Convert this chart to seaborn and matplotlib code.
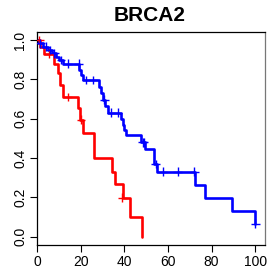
import pandas as pd
import seaborn as sns
import matplotlib.pyplot as plt

# Kaplan-Meier step points (time, survival after the drop)
red_time = [0, 1.5, 3.3, 7.9, 9.8, 10.5, 11.8, 18.6, 19.5, 21.0, 26.3, 34.4, 35.8, 39.3, 42.7, 48.2]
red_surv = [1.0, 0.965, 0.93, 0.88, 0.83, 0.77, 0.71, 0.655, 0.595, 0.527, 0.40, 0.33, 0.268, 0.198, 0.099, 0.0]

blue_time = [0, 0.6, 2.9, 5.2, 7.0, 8.7, 10.2, 12.1, 19.4, 20.2, 20.9, 28.6, 29.4, 30.1, 31.3, 32.4,
             38.5, 39.3, 40.0, 40.8, 47.7, 49.7, 53.8, 54.9, 72.2, 77.2, 89.3, 100]
blue_surv = [1.0, 0.983, 0.966, 0.949, 0.932, 0.915, 0.898, 0.88, 0.847, 0.822, 0.797, 0.763, 0.729, 0.697,
             0.664, 0.63, 0.596, 0.568, 0.542, 0.515, 0.48, 0.445, 0.37, 0.33, 0.263, 0.198, 0.132, 0.066]

# censored observations (time, survival level)
red_cens_time = [1.0, 5.6, 14.0, 20.2, 39.0]
red_cens_surv = [1.0, 0.93, 0.71, 0.595, 0.198]

blue_cens_time = [1.5, 4.0, 6.0, 8.0, 11.0, 14.0, 19.1, 22.5, 25.5, 30.9, 33.9, 37.0,
                  48.4, 49.0, 54.3, 57.6, 64.5, 72.0, 100]
blue_cens_surv = [0.983, 0.966, 0.949, 0.932, 0.898, 0.88, 0.88, 0.797, 0.797, 0.697, 0.63, 0.63,
                  0.48, 0.48, 0.37, 0.33, 0.33, 0.33, 0.066]

x_ticks = [0, 20, 40, 60, 80, 100]
y_ticks = [0.0, 0.2, 0.4, 0.6, 0.8, 1.0]

curves = pd.concat([
    pd.DataFrame({'time': red_time, 'surv': red_surv, 'grupo': 'low'}),
    pd.DataFrame({'time': blue_time, 'surv': blue_surv, 'grupo': 'high'}),
])
cens = pd.concat([
    pd.DataFrame({'time': red_cens_time, 'surv': red_cens_surv, 'grupo': 'low'}),
    pd.DataFrame({'time': blue_cens_time, 'surv': blue_cens_surv, 'grupo': 'high'}),
])
cores = {'low': '#FF0000', 'high': '#0000FF'}

sns.set_style("white")
plt.rcParams['font.family'] = ['Liberation Sans', 'DejaVu Sans']
plt.rcParams['text.color'] = 'black'

fig = plt.figure(figsize=(2.7, 2.75), dpi=100)
ax = fig.add_axes([0.137, 0.109, 0.844, 0.775])

sns.lineplot(data=curves, x='time', y='surv', hue='grupo', palette=cores,
             estimator=None, sort=False, drawstyle='steps-post', linewidth=1.9,
             legend=False, ax=ax)
sns.scatterplot(data=cens, x='time', y='surv', hue='grupo', palette=cores,
                marker='+', s=40, linewidth=1.0, legend=False, ax=ax, zorder=3)

ax.set_xlim(0, 104.4)
ax.set_ylim(-0.042, 1.041)
ax.set_xticks(x_ticks)
ax.set_yticks(y_ticks)
ax.set_xticklabels([str(v) for v in x_ticks], fontsize=10)
ax.set_yticklabels([f"{v:.1f}" for v in y_ticks], fontsize=10, rotation=90, va='center')
ax.tick_params(axis='both', direction='out', length=5, width=0.8, colors='black', pad=2,
               bottom=True, left=True)
ax.set_xlabel('')
ax.set_ylabel('')
for lado in ['left', 'bottom', 'top', 'right']:
    ax.spines[lado].set_color('black')
    ax.spines[lado].set_linewidth(0.9)
ax.spines['right'].set_color('#777777')

fig.text(0.555, 0.945, 'BRCA2', ha='center', va='center', fontsize=15,
         fontweight='bold', color='black')

plt.savefig('out.png', dpi=100)
